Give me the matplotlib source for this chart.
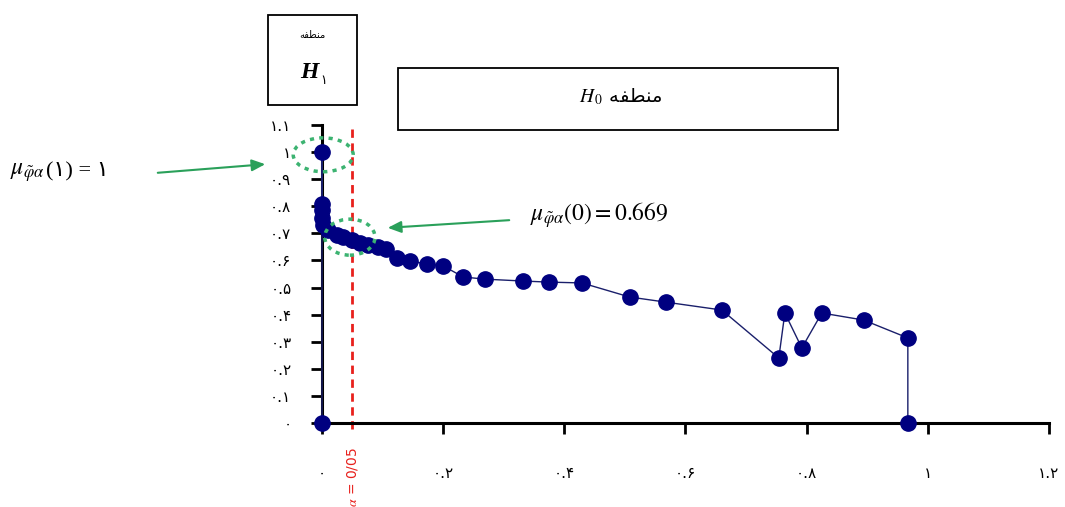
import matplotlib
matplotlib.use("Agg")
import matplotlib.pyplot as plt
from matplotlib.patches import Rectangle, Ellipse

plt.rcParams['mathtext.fontset'] = 'stix'

# membership values
x_vals = [0, 0, 0, 0, 0, 0.002, 0.01, 0.025, 0.035, 0.05, 0.063, 0.076, 0.092,
          0.106, 0.124, 0.145, 0.173, 0.2, 0.233, 0.269, 0.332, 0.375, 0.429,
          0.508, 0.568, 0.66, 0.754, 0.764, 0.792, 0.825, 0.894, 0.967, 0.967]
y_vals = [0, 1.0, 0.81, 0.785, 0.755, 0.73, 0.712, 0.694, 0.686, 0.675, 0.664,
          0.657, 0.649, 0.642, 0.609, 0.598, 0.587, 0.58, 0.539, 0.531, 0.524,
          0.52, 0.517, 0.465, 0.446, 0.417, 0.24, 0.406, 0.277, 0.406, 0.38,
          0.314, 0]

x_ticks = [0, 0.2, 0.4, 0.6, 0.8, 1.0, 1.2]
x_tick_labels = ["۰", "۰.۲", "۰.۴", "۰.۶", "۰.۸", "۱", "۱.۲"]
y_ticks = [0, 0.1, 0.2, 0.3, 0.4, 0.5, 0.6, 0.7, 0.8, 0.9, 1.0, 1.1]
y_tick_labels = ["۰", "۰.۱", "۰.۲", "۰.۳", "۰.۴", "۰.۵", "۰.۶", "۰.۷", "۰.۸",
                 "۰.۹", "۱", "۱.۱"]

alpha = 0.05
# "منطقه" in shaped presentation forms, visual order
region = "\uFEEA\uFED4\uFEC4\uFEE8\uFEE3"

W, H = 1065, 507
fig = plt.figure(figsize=(W / 100, H / 100), dpi=100)


def fx(px):
    return px / W


def fy(py):
    return 1 - py / H


ax = fig.add_axes([fx(322), fy(423), fx(1049) - fx(322), fy(125) - fy(423)])

ax.plot(x_vals, y_vals, color='#1a1f6b', lw=1.0, marker='o', markersize=11,
        markerfacecolor='#000080', markeredgecolor='#000080', clip_on=False, zorder=3)

ax.set_xlim(0, 1.2)
ax.set_ylim(0, 1.1)
ax.set_xticks(x_ticks)
ax.set_xticklabels(x_tick_labels, fontsize=11, family=['DejaVu Sans'])
ax.set_yticks(y_ticks)
ax.set_yticklabels(y_tick_labels, fontsize=11, family=['DejaVu Sans'])
ax.tick_params(axis='x', length=8, width=2, pad=23)
ax.tick_params(axis='y', length=8, width=2, pad=14)
for s in ['top', 'right']:
    ax.spines[s].set_visible(False)
for s in ['left', 'bottom']:
    ax.spines[s].set_linewidth(2.2)

# alpha line and label
ax.axvline(alpha, ymin=-0.02, ymax=1, color='#e8201c', ls=(0, (3, 2)), lw=2,
           clip_on=False, zorder=2)
ax.text(alpha, -0.18, r"$\alpha$ = 0/05", color='#e8201c', rotation=90,
        ha='center', va='center', fontsize=10, transform=ax.get_xaxis_transform())

# dotted green ellipses around the two key points
ell_kw = dict(fill=False, edgecolor='#3cb371', lw=2.5, ls=(0, (1.2, 1.5)),
              clip_on=False, zorder=4)
ax.add_patch(Ellipse((0.002, 0.99), 0.099, 0.125, **ell_kw))
ax.add_patch(Ellipse((0.046, 0.686), 0.083, 0.133, **ell_kw))

# arrows and annotations
arrow_kw = dict(arrowstyle='-|>,head_length=0.8,head_width=0.35', color='#2aa05a', lw=1.5)
ax.annotate("", xy=(268, H - 164), xytext=(155, H - 173),
            xycoords='figure pixels', textcoords='figure pixels', arrowprops=arrow_kw)
ax.annotate("", xy=(385, H - 228), xytext=(512, H - 220),
            xycoords='figure pixels', textcoords='figure pixels', arrowprops=arrow_kw)

mu_txt = fig.text(fx(10), fy(172), r"$\mu_{\tilde{\varphi}\alpha}$", fontsize=17,
                  ha='left', va='center')
renderer = fig.canvas.get_renderer()
mu_end = mu_txt.get_window_extent(renderer).x1
fig.text(fx(mu_end + 1), fy(172), "(۱) = ۱", fontsize=16,
         family=['Liberation Serif', 'DejaVu Sans'], ha='left', va='center')
fig.text(fx(530), fy(215), r"$\mu_{\tilde{\varphi}\alpha}(0) = 0.669$", fontsize=17,
         ha='left', va='center')

# region boxes
fig.add_artist(Rectangle((fx(268), fy(105)), fx(357) - fx(268), fy(15) - fy(105),
                         transform=fig.transFigure, fill=False, ec='black', lw=1.3))
fig.text(fx(312), fy(35), region, fontsize=7, ha='center', va='center',
         family=['DejaVu Sans'])
fig.text(fx(309), fy(72), "H", fontsize=17, fontweight='bold', fontstyle='italic',
         family=['Liberation Serif'], ha='center', va='center')
fig.text(fx(324), fy(80), "۱", fontsize=9, ha='center', va='center',
         family=['DejaVu Sans'])

fig.add_artist(Rectangle((fx(398), fy(130)), fx(838) - fx(398), fy(68) - fy(130),
                         transform=fig.transFigure, fill=False, ec='black', lw=1.3))
fig.text(fx(620), fy(97), r"$H_{\,0}$ " + region, fontsize=14, ha='center', va='center',
         family=['DejaVu Sans'])

fig.savefig("out.png", dpi=100)
